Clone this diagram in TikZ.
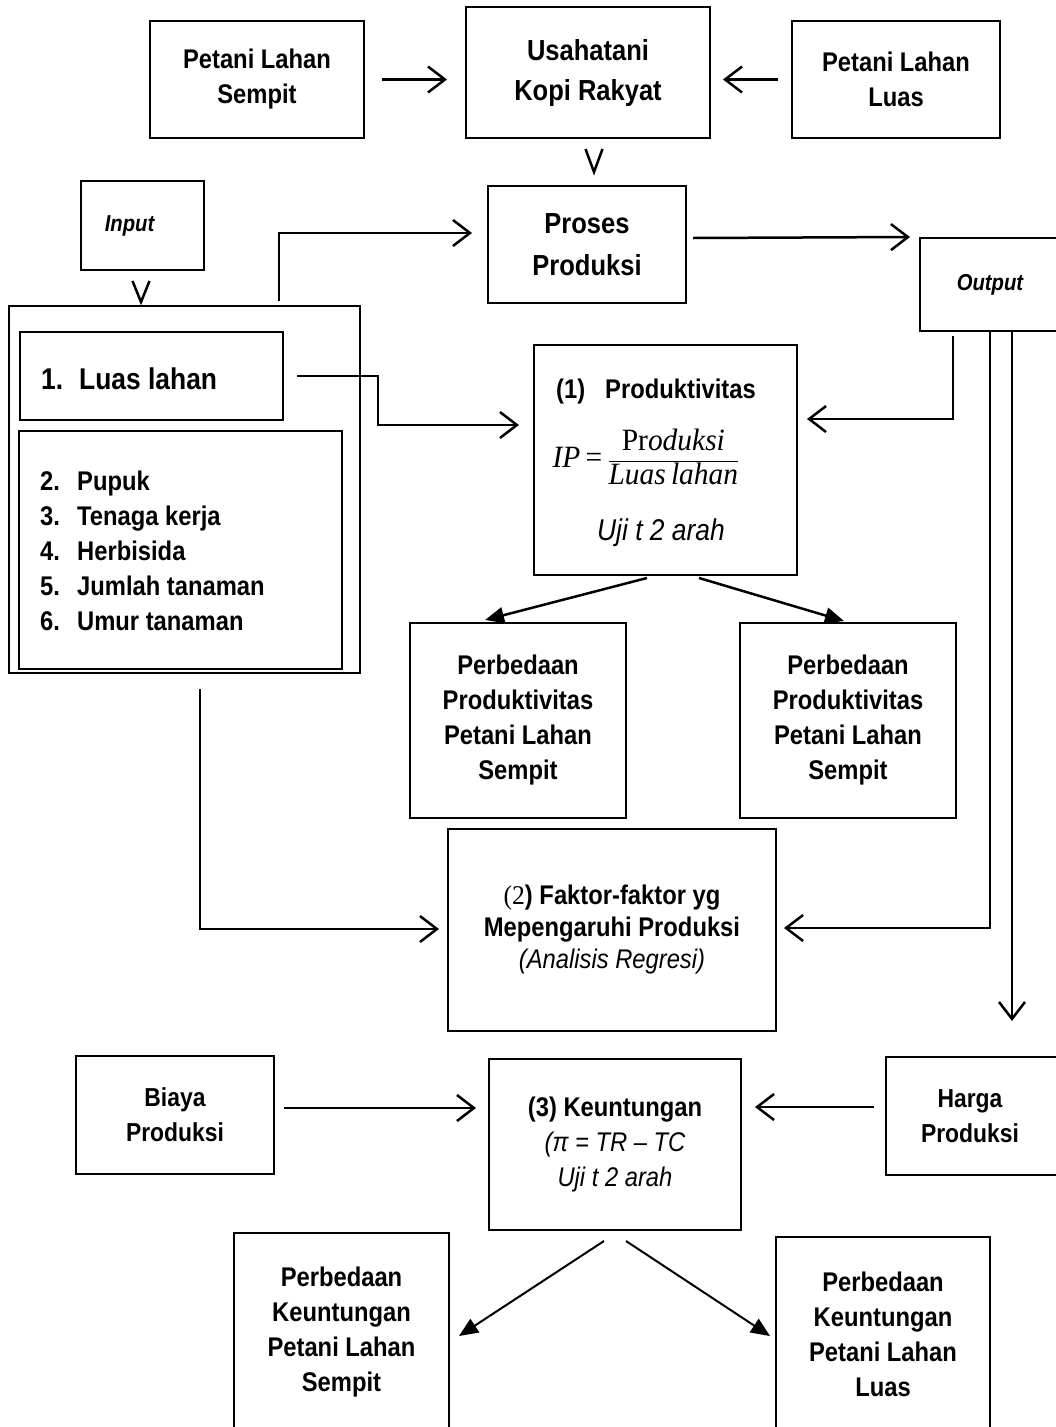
\documentclass[tikz,border=0pt]{standalone}
\usepackage{fontspec}
\setmainfont{Liberation Sans}[FakeStretch=0.88]
\newfontfamily\serif{Liberation Serif}[FakeStretch=0.95]
\usetikzlibrary{arrows.meta,calc}
\newcommand\fsz[2]{\fontsize{#1}{#2}\selectfont}
\begin{document}
\begin{tikzpicture}[x=1pt,y=-1pt,
 box/.style={draw, line width=2pt, rectangle, inner sep=0pt, align=center},
 arr/.style={line width=2.5pt, -{Straight Barb[length=17pt,width=26pt]}},
 tri/.style={line width=2.5pt, -{Triangle[length=19pt,width=16pt]}},
 chev/.style={line width=2.5pt, line join=miter},
 txt/.style={inner sep=0pt, anchor=base west}
 ]
\path[fill=white] (0,0) rectangle (1056,1427);
\useasboundingbox (0,0) rectangle (1056,1427);

% top row
\node[box, minimum width=214pt, minimum height=117pt, font=\bfseries\fsz{27}{35}] (pls) at (257,79.5) {Petani Lahan\\Sempit};
\node[box, minimum width=244pt, minimum height=131pt, font=\bfseries\fsz{29}{40}] (usaha) at (588,72.5) {Usahatani\\Kopi Rakyat};
\node[box, minimum width=208pt, minimum height=117pt, font=\bfseries\fsz{27}{35}] (pll) at (896,79.5) {Petani Lahan\\Luas};

\node[box, minimum width=123pt, minimum height=89pt, font=\bfseries\itshape\fsz{23}{28}] (input) at (142.5,225.5) {Input\hspace*{26pt}};
\node[box, minimum width=198pt, minimum height=117pt, font=\bfseries\fsz{29}{42}] (proses) at (587,244.5) {Proses\\Produksi};
\node[box, minimum width=140pt, minimum height=93pt, font=\bfseries\itshape\fsz{23}{28}] (output) at (990,284.5) {Output};

% input group
\node[box, minimum width=351pt, minimum height=367pt] (big) at (184.5,489.5) {};
\node[box, minimum width=263pt, minimum height=88pt] (luas) at (151.5,376) {};
\node[txt, font=\bfseries\fsz{30}{36}] (luastxt) at (41,389) {\makebox[38pt][l]{1.}Luas lahan};
\node[box, minimum width=323pt, minimum height=238pt] (list) at (180.5,550) {};
\node[txt, font=\bfseries\fsz{27}{35}] (l2) at (40,490) {\makebox[37pt][l]{2.}Pupuk};
\node[txt, font=\bfseries\fsz{27}{35}] (l3) at (40,525) {\makebox[37pt][l]{3.}Tenaga kerja};
\node[txt, font=\bfseries\fsz{27}{35}] (l4) at (40,560) {\makebox[37pt][l]{4.}Herbisida};
\node[txt, font=\bfseries\fsz{27}{35}] (l5) at (40,595) {\makebox[37pt][l]{5.}Jumlah tanaman};
\node[txt, font=\bfseries\fsz{27}{35}] (l6) at (40,630) {\makebox[37pt][l]{6.}Umur tanaman};

% produktivitas
\node[box, minimum width=263pt, minimum height=230pt] (prod) at (665.5,460) {};
\node[inner sep=0pt, anchor=base, font=\bfseries\fsz{27}{30}] (prodh) at (656,398) {(1)\hspace{20pt}Produktivitas};
\node[inner sep=0pt, font=\fsz{31}{36}] (prodf) at (646,457) {$\mbox{\serif\itshape IP}\mbox{\serif\,=\,}\displaystyle\frac{\mbox{\serif Pr\itshape oduksi}}{\mbox{\serif\itshape Luas\,lahan}}$};
\node[inner sep=0pt, anchor=base, font=\itshape\fsz{30}{34}] (uji1) at (661,540) {Uji t 2 arah};

\node[box, minimum width=216pt, minimum height=195pt, font=\bfseries\fsz{27}{35}] (pbl) at (518,720.5) {Perbedaan\\Produktivitas\\Petani Lahan\\Sempit};
\node[box, minimum width=216pt, minimum height=195pt, font=\bfseries\fsz{27}{35}] (pbr) at (848,720.5) {Perbedaan\\Produktivitas\\Petani Lahan\\Sempit};

\node[box, minimum width=328pt, minimum height=202pt, font=\bfseries\fsz{27}{32}] (faktor) at (612,930) {{\mdseries\serif(2}) Faktor-faktor yg\\Mepengaruhi Produksi\\{\mdseries\itshape (Analisis Regresi)}};

% bottom
\node[box, minimum width=198pt, minimum height=118pt, font=\bfseries\fsz{26}{35}] (biaya) at (175,1115) {Biaya\\Produksi};
\node[box, minimum width=252pt, minimum height=171pt, font=\bfseries\fsz{27}{35}] (keun) at (615,1144.5) {(3) Keuntungan\\{\mdseries\itshape(π = TR – TC}\\{\mdseries\itshape Uji t 2 arah}};
\node[box, minimum width=174pt, minimum height=118pt, font=\bfseries\fsz{26}{35}] (harga) at (973,1116) {Harga\hspace*{6pt}\\Produksi\hspace*{6pt}};
\node[box, minimum width=215pt, minimum height=199pt, font=\bfseries\fsz{27}{35}] (pks) at (341.5,1332.5) {Perbedaan\\Keuntungan\\Petani Lahan\\Sempit};
\node[box, minimum width=214pt, minimum height=195pt, font=\bfseries\fsz{27}{35}] (pkl) at (883,1334.5) {Perbedaan\\Keuntungan\\Petani Lahan\\Luas};

% connectors
\draw[arr, shorten <=17pt, shorten >=18pt] (pls.east) -- (pls.east -| usaha.west);
\draw[arr, shorten <=13pt, shorten >=12pt] (pll.west) -- (pll.west -| usaha.east);
\draw[chev] ($(usaha.south)+(-2.5,10)$) -- ($(usaha.south)+(6,33)$) -- ($(usaha.south)+(14.5,10)$);
\draw[chev] ($(input.south)+(-10,10)$) -- ($(input.south)+(-1.5,31)$) -- ($(input.south)+(7,10)$);
\draw[arr] ($(big.north west)+(271,-4)$) |- ($(proses.west)+(-15,-11.5)$);
\draw[arr] ($(proses.east)+(6,-6.5)$) -- ($(output.north west)+(-9,0)$);
\draw[arr] ($(luas.east)+(13,0)$) -| ($(prod.west)+(-155,-35)$) -- ($(prod.west)+(-14,-35)$);
\draw[arr] ($(output.south west)+(34,4)$) |- ($(prod.east)+(9,-41)$);
\draw[tri] ($(prod.south)+(-18.5,2)$) -- ($(pbl.north)+(-33,-2)$);
\draw[tri] ($(prod.south)+(33.5,2)$) -- ($(pbr.north)+(-4,-1)$);
\draw[arr] ($(big.south west)+(192,15)$) |- ($(faktor.west)+(-8,-1)$);
\draw[arr] ($(output.south west)+(71,0)$) |- ($(faktor.east)+(7,-2)$);
\draw[arr] ($(output.south west)+(93,0)$) -- ($(harga.north west)+(127,-35)$);
\draw[arr] ($(biaya.east)+(9,-7)$) -- ($(keun.west |- biaya.east)+(-12,-7)$);
\draw[arr] ($(harga.west)+(-11,-9)$) -- ($(keun.east |- harga.west)+(13,-9)$);
\draw[tri, line width=2pt] ($(keun.south)+(-11,10)$) -- ($(pks.north east)+(9,104)$);
\draw[tri, line width=2pt] ($(keun.south)+(11,10)$) -- ($(pkl.north west)+(-5,100)$);
\end{tikzpicture}
\end{document}
